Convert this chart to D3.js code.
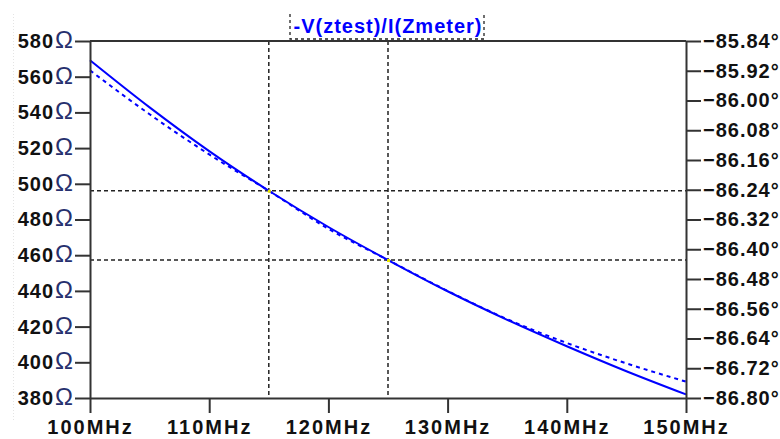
<!DOCTYPE html>
<html><head><meta charset="utf-8">
<script src="https://cdn.jsdelivr.net/npm/d3@7"></script>
<style>
html,body{margin:0;padding:0;background:#fff;}
svg{display:block;}
</style></head>
<body>
<svg id="chart" width="780" height="439"></svg>
<script>
// ---- data ----
const freqMHz   = [100, 105, 110, 115, 120, 125, 130, 135, 140, 145, 150];
const magOhm    = [569.2, 542.8, 518.3, 496.1, 475.8, 457.3, 439.8, 423.8, 409.0, 395.0, 382.0];
const phaseDeg  = [-85.919, -86.037, -86.145, -86.243, -86.345, -86.429, -86.512, -86.588, -86.652, -86.707, -86.756];
const xTicks    = [100, 110, 120, 130, 140, 150];
const yLeftTicks  = [380, 400, 420, 440, 460, 480, 500, 520, 540, 560, 580];
const yRightTicks = [-86.80, -86.72, -86.64, -86.56, -86.48, -86.40, -86.32, -86.24, -86.16, -86.08, -86.00, -85.92, -85.84];
const cursorFreq = [115, 125];
const cursorMag  = [496.1, 457.3];
const title = "-V(ztest)/I(Zmeter)";

// ---- layout ----
const L = 90, R = 686, T = 41, B = 398;
const FONT = "'Liberation Sans', Arial, sans-serif";
const svg = d3.select("#chart");

const x  = d3.scaleLinear().domain([100, 150]).range([L, R]);
const yL = d3.scaleLinear().domain([380, 580]).range([B, T]);
const yR = d3.scaleLinear().domain([-86.80, -85.84]).range([B, T]);

// faint window edge
svg.append("line").attr("x1", 13.5).attr("x2", 13.5).attr("y1", 14).attr("y2", 420)
  .attr("stroke", "#e4e4e4").attr("stroke-dasharray", "1,2");

// cursors
const cur = svg.append("g").attr("stroke", "#222").attr("stroke-width", 1.5).attr("stroke-dasharray", "4,3");
cur.selectAll("line.v").data(cursorFreq).join("line").attr("class", "v")
  .attr("x1", d => x(d)).attr("x2", d => x(d)).attr("y1", T).attr("y2", B);
cur.selectAll("line.h").data(cursorMag).join("line").attr("class", "h")
  .attr("x1", L).attr("x2", R).attr("y1", d => yL(d)).attr("y2", d => yL(d));

// traces
const magLine = d3.line().x((d, i) => x(freqMHz[i])).y(d => yL(d)).curve(d3.curveMonotoneX);
const phLine  = d3.line().x((d, i) => x(freqMHz[i])).y(d => yR(d)).curve(d3.curveMonotoneX);
svg.append("path").datum(phaseDeg).attr("d", phLine)
  .attr("fill", "none").attr("stroke", "#0000ff").attr("stroke-width", 2).attr("stroke-dasharray", "4,4");
svg.append("path").datum(magOhm).attr("d", magLine)
  .attr("fill", "none").attr("stroke", "#0000ff").attr("stroke-width", 2);

// cursor markers
svg.selectAll("rect.cm").data(cursorFreq).join("rect").attr("class", "cm")
  .attr("x", (d, i) => x(d) - 1).attr("y", (d, i) => yL(cursorMag[i]) - 1)
  .attr("width", 3).attr("height", 3).attr("fill", "#e8e800");

// axes
function styleAxis(g, ls) {
  g.selectAll("path.domain").attr("stroke", "#333").attr("stroke-width", 2);
  g.selectAll(".tick line").attr("stroke", "#333").attr("stroke-width", 2);
  g.selectAll("text").attr("fill", "#111").style("font-family", FONT)
    .style("font-weight", "bold").style("font-size", "20px").style("letter-spacing", ls + "px");
}
const ax = svg.append("g").attr("transform", `translate(0,${B})`)
  .call(d3.axisBottom(x).tickValues(xTicks).tickSize(15).tickSizeOuter(0).tickPadding(7)
        .tickFormat(d => d + "MHz"));
styleAxis(ax, 2);
const al = svg.append("g").attr("transform", `translate(${L},0)`)
  .call(d3.axisLeft(yL).tickValues(yLeftTicks).tickSize(15).tickSizeOuter(0).tickPadding(2)
        .tickFormat(d => d));
styleAxis(al, 1);
al.selectAll(".tick text").each(function(d) {
  const t = d3.select(this); t.text(null);
  t.append("tspan").text(d);
  t.append("tspan").text("Ω").attr("dx", 1).attr("fill", "#26306e")
    .style("font-weight", "normal").style("font-size", "24px").style("letter-spacing", "0px");
});
const ar = svg.append("g").attr("transform", `translate(${R},0)`)
  .call(d3.axisRight(yR).tickValues(yRightTicks).tickSize(15).tickSizeOuter(0).tickPadding(2)
        .tickFormat(d => d3.format(".2f")(d) + "°"));
styleAxis(ar, 1);

// top border
svg.append("line").attr("x1", L).attr("x2", R).attr("y1", T).attr("y2", T)
  .attr("stroke", "#333").attr("stroke-width", 2);

// title with dashed bracket
const tg = svg.append("g");
tg.append("text").attr("x", (L + R) / 2).attr("y", 33).attr("text-anchor", "middle")
  .style("font-family", FONT).style("font-weight", "bold").style("font-size", "20px")
  .style("letter-spacing", "1px").attr("fill", "#0000ff").text(title);
const bx0 = 290, bx1 = 484;
tg.append("path").attr("d", `M${bx0},14 V39 H${bx1} V14`)
  .attr("fill", "none").attr("stroke", "#222").attr("stroke-width", 1.3).attr("stroke-dasharray", "3,3");
</script>
</body></html>
